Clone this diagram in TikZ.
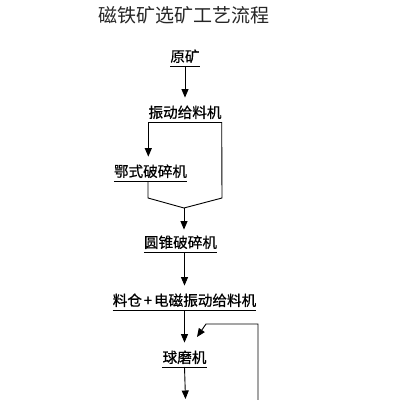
\documentclass[tikz,border=0pt]{standalone}
\usepackage{fontspec}
\setmainfont{Noto Sans CJK SC}
\newfontfamily\stepfont[FakeBold=0.6]{Noto Sans CJK SC}
\usetikzlibrary{arrows.meta}

\begin{document}
\begin{tikzpicture}[
    x=1pt, y=-1pt,
    lbl/.style={
        font=\stepfont\fontsize{14.6}{16}\selectfont,
        inner xsep=0pt,
        inner ysep=1pt,
        text height=11pt,
        text depth=3pt,
        anchor=south
    },
    line/.style={
        line width=0.9pt,
        draw=black
    },
    arrow/.style={
        -{Triangle[length=8.5pt,width=7pt]},
        line width=0.9pt,
        draw=black,
        shorten >=8pt
    }
]
\useasboundingbox (0,0) rectangle (400,400);

% Title
\node[font=\fontsize{19}{22}\selectfont, text=black!85] (title) at (184,15) {磁铁矿选矿工艺流程};

% Process steps (placed by their underline)
\node[lbl] (ore) at (185,66) {原矿};
\node[lbl] (feeder) at (185,122) {振动给料机};
\node[lbl] (jaw) at (150.5,181) {鄂式破碎机};
\node[lbl] (cone) at (180.5,252) {圆锥破碎机};
\node[lbl] (bin) at (184.5,310) {料仓\kern2pt+\kern2pt电磁振动给料机};
\node[lbl] (mill) at (184.5,367) {球磨机};

\foreach \n in {ore,feeder,jaw,cone,bin,mill}
    \draw[line] (\n.south west) -- (\n.south east);

% Joints
\coordinate (jawend) at (148,198);
\coordinate (bypass) at (222,198);
\coordinate (merge) at (184,208);
\coordinate (out) at (185.5,399);
\coordinate (back) at (258,400);
\coordinate (turn) at (206,324);
\coordinate (into) at (197,337);

% Connections
\draw[arrow] (ore.south) -- (feeder.north);
\draw[arrow] (feeder.south west) -- (feeder.south west |- jaw.north);
\draw[line] (jaw.south -| jawend) -- (jawend) -- (merge);
\draw[line] (feeder.south east) -- (bypass) -- (merge);
\draw[arrow, shorten >=6pt] (merge) -- (merge |- cone.north);
\draw[arrow] (cone.south -| bin) -- (bin.north);
\draw[arrow] (bin.south) -- (mill.north);
\draw[arrow, shorten >=0pt] (mill.south) -- (out);
\draw[arrow, shorten >=0pt] (back) |- (turn) -- (into);

\end{tikzpicture}
\end{document}
